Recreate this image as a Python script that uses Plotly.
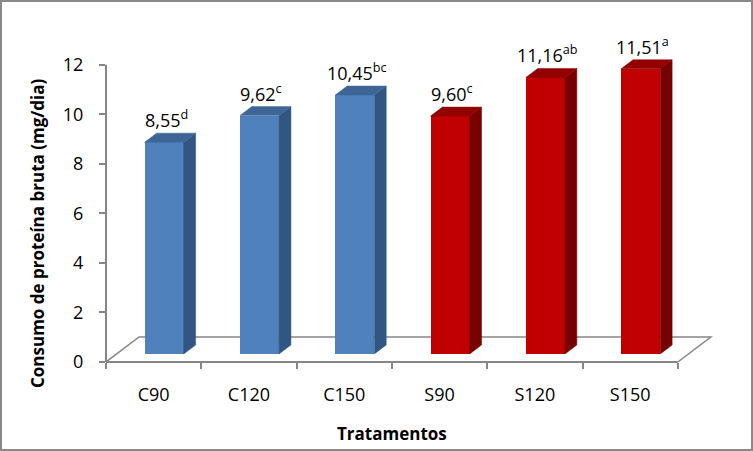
import plotly.graph_objects as go

# ---------------- data ----------------
categories = ["C90", "C120", "C150", "S90", "S120", "S150"]
values = [8.55, 9.62, 10.45, 9.60, 11.16, 11.51]
letters = ["d", "c", "bc", "c", "ab", "a"]
groups = ["C", "C", "C", "S", "S", "S"]
y_ticks = [0, 2, 4, 6, 8, 10, 12]
y_title = "Consumo de proteína bruta (mg/dia)"
x_title = "Tratamentos"

# ---------------- style / geometry ----------------
FRONT = {"C": "#4F81BD", "S": "#C00000"}
SIDE = {"C": "#325683", "S": "#780000"}
TOP = {"C": "#3D6697", "S": "#920000"}
AXIS_C = "#868686"
FONT = "Open Sans"

W_FIG, H_FIG = 753, 451
L, R, T, B = 106, 725, 50, 362          # plot area in px
PX_PER_CAT = 95.3
PX_PER_UNIT = 24.78
x_min = -0.5
x_max = x_min + (R - L) / PX_PER_CAT
y_max = (B - T) / PX_PER_UNIT
floor_dx = 33 / PX_PER_CAT
floor_dy = 25 / PX_PER_UNIT
d_front, d_back = 0.32, 0.68
bar_w = 0.41


def px_to_paper_x(px):
    return (px - L) / (R - L)


def px_to_paper_y(py):
    return (B - py) / (B - T)


n = len(categories)
idx = list(range(n))
fx = [i + d_front * floor_dx for i in idx]
base = d_front * floor_dy
ddx = (d_back - d_front) * floor_dx
ddy = (d_back - d_front) * floor_dy

fig = go.Figure()
fig.add_trace(go.Bar(
    x=fx, y=values, base=base, width=bar_w,
    marker=dict(color=[FRONT[g] for g in groups], line=dict(width=0)),
    hoverinfo="skip", showlegend=False,
))

for i, v, g in zip(idx, values, groups):
    xl = fx[i] - bar_w / 2
    xr = fx[i] + bar_w / 2
    top = base + v
    fig.add_trace(go.Scatter(
        x=[xr, xr + ddx, xr + ddx, xr, xr],
        y=[base, base + ddy, top + ddy, top, base],
        fill="toself", fillcolor=SIDE[g], mode="lines",
        line=dict(color=SIDE[g], width=0.5),
        hoverinfo="skip", showlegend=False,
    ))
    fig.add_trace(go.Scatter(
        x=[xl, xl + ddx, xr + ddx, xr, xl],
        y=[top, top + ddy, top + ddy, top, top],
        fill="toself", fillcolor=TOP[g], mode="lines",
        line=dict(color=TOP[g], width=0.5),
        hoverinfo="skip", showlegend=False,
    ))

annotations = []
for i, v, s in zip(idx, values, letters):
    txt = f"{v:.2f}".replace(".", ",") + f"<sup>{s}</sup>"
    annotations.append(dict(
        x=fx[i] + 0.02, y=base + v + ddy, xref="x", yref="y",
        text=txt, showarrow=False, xanchor="center", yanchor="bottom",
        yshift=-1, font=dict(family=FONT, size=18, color="#000000"),
    ))

annotations.append(dict(
    x=px_to_paper_x(37), y=px_to_paper_y(234), xref="paper", yref="paper",
    text=f"<b>{y_title}</b>", textangle=-90, showarrow=False,
    xanchor="center", yanchor="middle",
    font=dict(family=FONT, size=17, color="#000000"),
))
annotations.append(dict(
    x=px_to_paper_x(392), y=px_to_paper_y(433), xref="paper", yref="paper",
    text=f"<b>{x_title}</b>", showarrow=False,
    xanchor="center", yanchor="middle",
    font=dict(family=FONT, size=17, color="#000000"),
))

x_lo, x_hi = -0.5, n - 0.5
floor_path = (f"M {x_lo},0 L {x_lo + floor_dx},{floor_dy} "
              f"L {x_hi + floor_dx},{floor_dy} L {x_hi},0")

shapes = [
    dict(type="path", path=floor_path, xref="x", yref="y", layer="below",
         line=dict(color=AXIS_C, width=1.5)),
    dict(type="line", xref="paper", yref="y", x0=0, x1=0, y0=0, y1=y_ticks[-1],
         line=dict(color=AXIS_C, width=2)),
    dict(type="line", xref="x", yref="paper", x0=x_lo, x1=x_hi, y0=0, y1=0,
         line=dict(color=AXIS_C, width=2)),
    dict(type="rect", xref="paper", yref="paper",
         x0=px_to_paper_x(1), x1=px_to_paper_x(752),
         y0=px_to_paper_y(450), y1=px_to_paper_y(1),
         line=dict(color="#898989", width=2), fillcolor="rgba(0,0,0,0)"),
]

fig.update_layout(
    width=W_FIG, height=H_FIG,
    margin=dict(l=L, r=W_FIG - R, t=T, b=H_FIG - B, pad=0),
    paper_bgcolor="white", plot_bgcolor="white",
    showlegend=False, bargap=0,
    font=dict(family=FONT, size=18, color="#000000"),
    xaxis=dict(
        range=[x_min, x_max], tickmode="array", tickvals=idx, ticktext=categories,
        ticks="", showgrid=False, zeroline=False, showline=False,
        ticklabelstandoff=20, tickfont=dict(family=FONT, size=18, color="#000000"),
        minor=dict(tickmode="array", tickvals=[i - 0.5 for i in range(n + 1)],
                   ticks="outside", ticklen=6, tickwidth=2, tickcolor=AXIS_C,
                   showgrid=False),
        fixedrange=True,
    ),
    yaxis=dict(
        range=[0, y_max], tickmode="array", tickvals=y_ticks,
        ticks="outside", ticklen=6, tickwidth=2, tickcolor=AXIS_C,
        showgrid=False, zeroline=False, showline=False,
        ticklabelstandoff=12, tickfont=dict(family=FONT, size=18, color="#000000"),
        fixedrange=True,
    ),
    shapes=shapes,
    annotations=annotations,
)

fig.write_html("out.html")
